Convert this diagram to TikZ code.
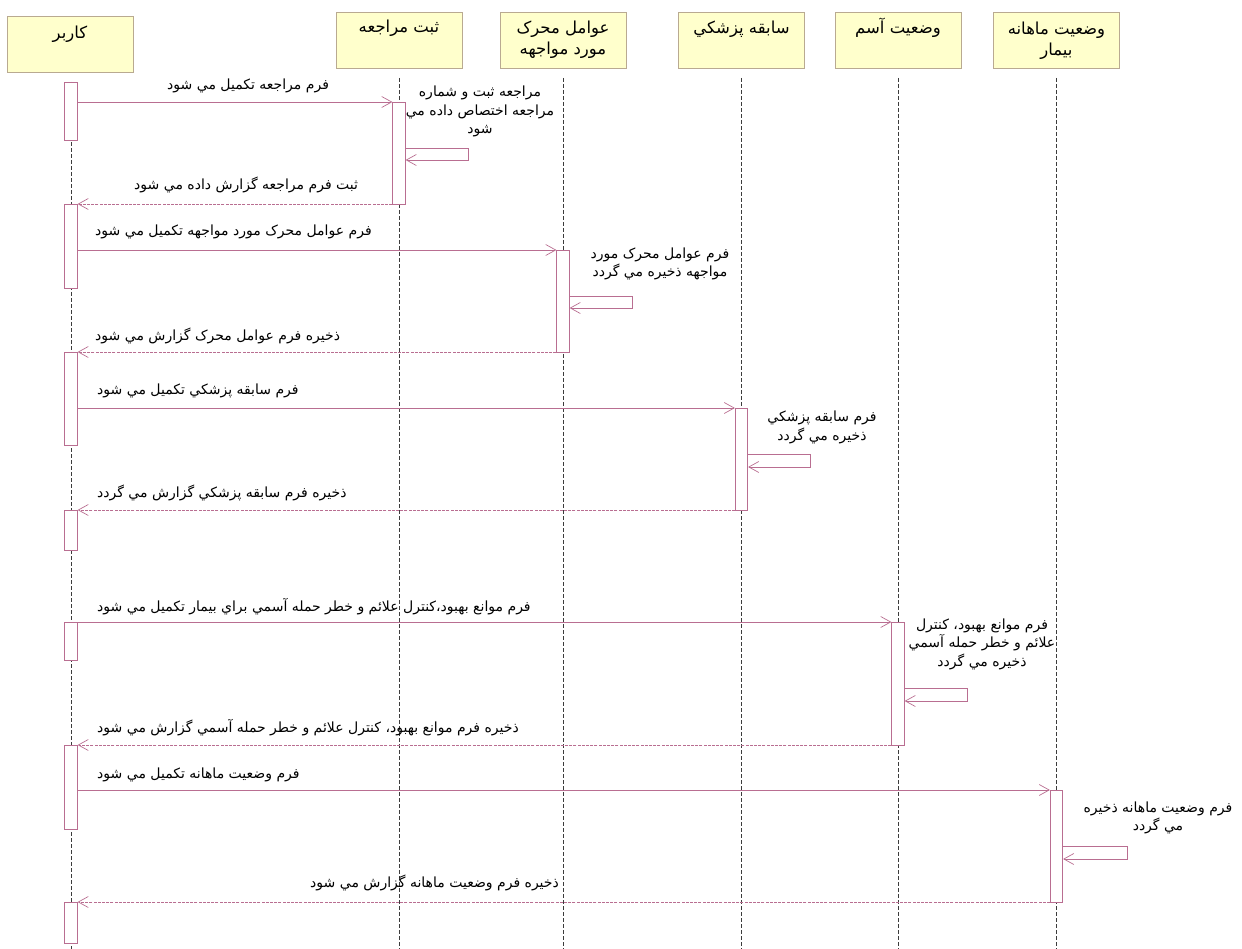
\documentclass[tikz,border=0pt]{standalone}
\usepackage{fontspec}
\usetikzlibrary{arrows.meta}
\TeXXeTstate=1
\newfontfamily\arabicfont[Script=Arabic]{DejaVu Sans}
\newcommand\rl[1]{\beginR #1\endR}

\definecolor{msgpink}{RGB}{185,110,145}
\definecolor{lifegray}{RGB}{60,60,60}
\definecolor{headfill}{RGB}{255,255,204}
\definecolor{headline}{RGB}{185,170,145}

\tikzset{
  header/.style={draw=headline, fill=headfill, line width=0.8pt,
    minimum width=126pt, minimum height=56pt, inner sep=0pt},
  headtext/.style={font=\arabicfont\fontsize{16.5}{21}\selectfont, align=center, inner sep=0pt},
  lifeline/.style={draw=lifegray, line width=0.6pt, dash pattern=on 4pt off 2pt},
  act/.style={draw=msgpink, fill=white, line width=0.7pt,
    minimum width=12.5pt, inner sep=0pt, anchor=north},
  msg/.style={draw=msgpink, line width=0.7pt, -{Straight Barb[length=10pt,width=11pt]}},
  reply/.style={msg, dash pattern=on 3pt off 1.2pt},
  msglabel/.style={font=\arabicfont\fontsize{14}{16}\selectfont, inner sep=0pt, anchor=west},
  selftext/.style={font=\arabicfont\fontsize{14}{18.5}\selectfont, align=center, inner sep=0pt}
}

\begin{document}
\begin{tikzpicture}[x=1pt,y=-1pt]
\useasboundingbox (0,0) rectangle (1242,949);

% participants
\node[header] (hU) at (70,44) {};
\node[header] (hR) at (399,40) {};
\node[header] (hF) at (563,40) {};
\node[header] (hH) at (741.5,40) {};
\node[header] (hA) at (898,40) {};
\node[header] (hM) at (1056.5,40) {};

\node[headtext] (tU) at (70,34) {\rl{کاربر}};
\node[headtext] (tR) at (399,28) {\rl{ثبت مراجعه}};
\node[headtext] (tF) at (563,40) {\rl{عوامل محرک}\\\rl{مورد مواجهه}};
\node[headtext] (tH) at (741.5,29) {\rl{سابقه پزشکي}};
\node[headtext] (tA) at (898,28) {\rl{وضعيت آسم}};
\node[headtext] (tM) at (1056.5,41) {\rl{وضعيت ماهانه}\\\rl{بيمار}};

% lifelines
\coordinate (top) at (0,78);
\coordinate (topU) at (0,82);
\coordinate (bot) at (0,949);
\draw[lifeline] (71,0 |- topU) -- (71,0 |- bot);
\foreach \h in {hR,hF,hH,hA,hM}
  \draw[lifeline] (\h |- top) -- (\h |- bot);

% activation bars of the user
\node[act, minimum height=58pt] (u1) at (71,82) {};
\node[act, minimum height=84pt] (u2) at (71,204) {};
\node[act, minimum height=93pt] (u3) at (71,352) {};
\node[act, minimum height=40pt] (u4) at (71,510) {};
\node[act, minimum height=38pt] (u5) at (71,622) {};
\node[act, minimum height=84pt] (u6) at (71,745) {};
\node[act, minimum height=41pt] (u7) at (71,902) {};

% activation bars of the forms
\node[act, minimum height=102pt] (sR) at (399,102) {};
\node[act, minimum height=102pt] (sF) at (563,250) {};
\node[act, minimum height=102pt] (sH) at (741.5,408) {};
\node[act, minimum height=123pt] (sA) at (898,622) {};
\node[act, minimum height=112pt] (sM) at (1056.5,790) {};

% message rows
\coordinate (m1) at (0,102);  \coordinate (r1) at (0,204);
\coordinate (m2) at (0,250);  \coordinate (r2) at (0,352);
\coordinate (m3) at (0,408);  \coordinate (r3) at (0,510);
\coordinate (m4) at (0,622);  \coordinate (r4) at (0,745);
\coordinate (m5) at (0,790);  \coordinate (r5) at (0,902);

% self calls
\coordinate (k1a) at (0,148); \coordinate (k1) at (468,160);
\coordinate (k2a) at (0,296); \coordinate (k2) at (632,308);
\coordinate (k3a) at (0,454); \coordinate (k3) at (810,467);
\coordinate (k4a) at (0,688); \coordinate (k4) at (967,701);
\coordinate (k5a) at (0,846); \coordinate (k5) at (1127,859);

% registration
\draw[msg] (u1.east |- m1) -- (sR.west |- m1);
\draw[msg] (sR.east |- k1a) -| (k1) -- (sR.east |- k1);
\draw[reply] (sR.west |- r1) -- (u2.east |- r1);
% exposure factors
\draw[msg] (u2.east |- m2) -- (sF.west |- m2);
\draw[msg] (sF.east |- k2a) -| (k2) -- (sF.east |- k2);
\draw[reply] (sF.west |- r2) -- (u3.east |- r2);
% medical history
\draw[msg] (u3.east |- m3) -- (sH.west |- m3);
\draw[msg] (sH.east |- k3a) -| (k3) -- (sH.east |- k3);
\draw[reply] (sH.west |- r3) -- (u4.east |- r3);
% asthma status
\draw[msg] (u5.east |- m4) -- (sA.west |- m4);
\draw[msg] (sA.east |- k4a) -| (k4) -- (sA.east |- k4);
\draw[reply] (sA.west |- r4) -- (u6.east |- r4);
% monthly status
\draw[msg] (u6.east |- m5) -- (sM.west |- m5);
\draw[msg] (sM.east |- k5a) -| (k5) -- (sM.east |- k5);
\draw[reply] (sM.west |- r5) -- (u7.east |- r5);

% message labels
\node[msglabel] (l1) at (167,86) {\rl{فرم مراجعه تكميل مي شود}};
\node[msglabel] (l1r) at (134,185) {\rl{ثبت فرم مراجعه گزارش داده مي شود}};
\node[msglabel] (l2) at (95,232) {\rl{فرم عوامل محرک مورد مواجهه تكميل مي شود}};
\node[msglabel] (l2r) at (95,336) {\rl{ذخيره فرم عوامل محرک گزارش مي شود}};
\node[msglabel] (l3) at (97,391) {\rl{فرم سابقه پزشكي تكميل مي شود}};
\node[msglabel] (l3r) at (97,493) {\rl{ذخيره فرم سابقه پزشكي گزارش مي گردد}};
\node[msglabel] (l4) at (97,607) {\rl{فرم موانع بهبود،كنترل علائم و خطر حمله آسمي براي بيمار تكميل مي شود}};
\node[msglabel] (l4r) at (97,728) {\rl{ذخيره فرم موانع بهبود، كنترل علائم و خطر حمله آسمي گزارش مي شود}};
\node[msglabel] (l5) at (97,775) {\rl{فرم وضعيت ماهانه تكميل مي شود}};
\node[msglabel] (l5r) at (310,883) {\rl{ذخيره فرم وضعيت ماهانه گزارش مي شود}};

% notes of the self calls
\node[selftext] (n1) at (480,111.5) {\rl{مراجعه ثبت و  شماره}\\\rl{مراجعه اختصاص داده مي}\\\rl{شود}};
\node[selftext] (n2) at (660,264) {\rl{فرم عوامل محرک  مورد}\\\rl{مواجهه ذخيره مي گردد}};
\node[selftext] (n3) at (822,427.5) {\rl{فرم سابقه پزشكي}\\\rl{ذخيره مي گردد}};
\node[selftext] (n4) at (982,644) {\rl{فرم موانع بهبود، كنترل}\\\rl{علائم و خطر حمله آسمي}\\\rl{ذخيره مي گردد}};
\node[selftext] (n5) at (1158,818) {\rl{فرم وضعيت ماهانه ذخيره}\\\rl{مي گردد}};
\end{tikzpicture}
\end{document}
